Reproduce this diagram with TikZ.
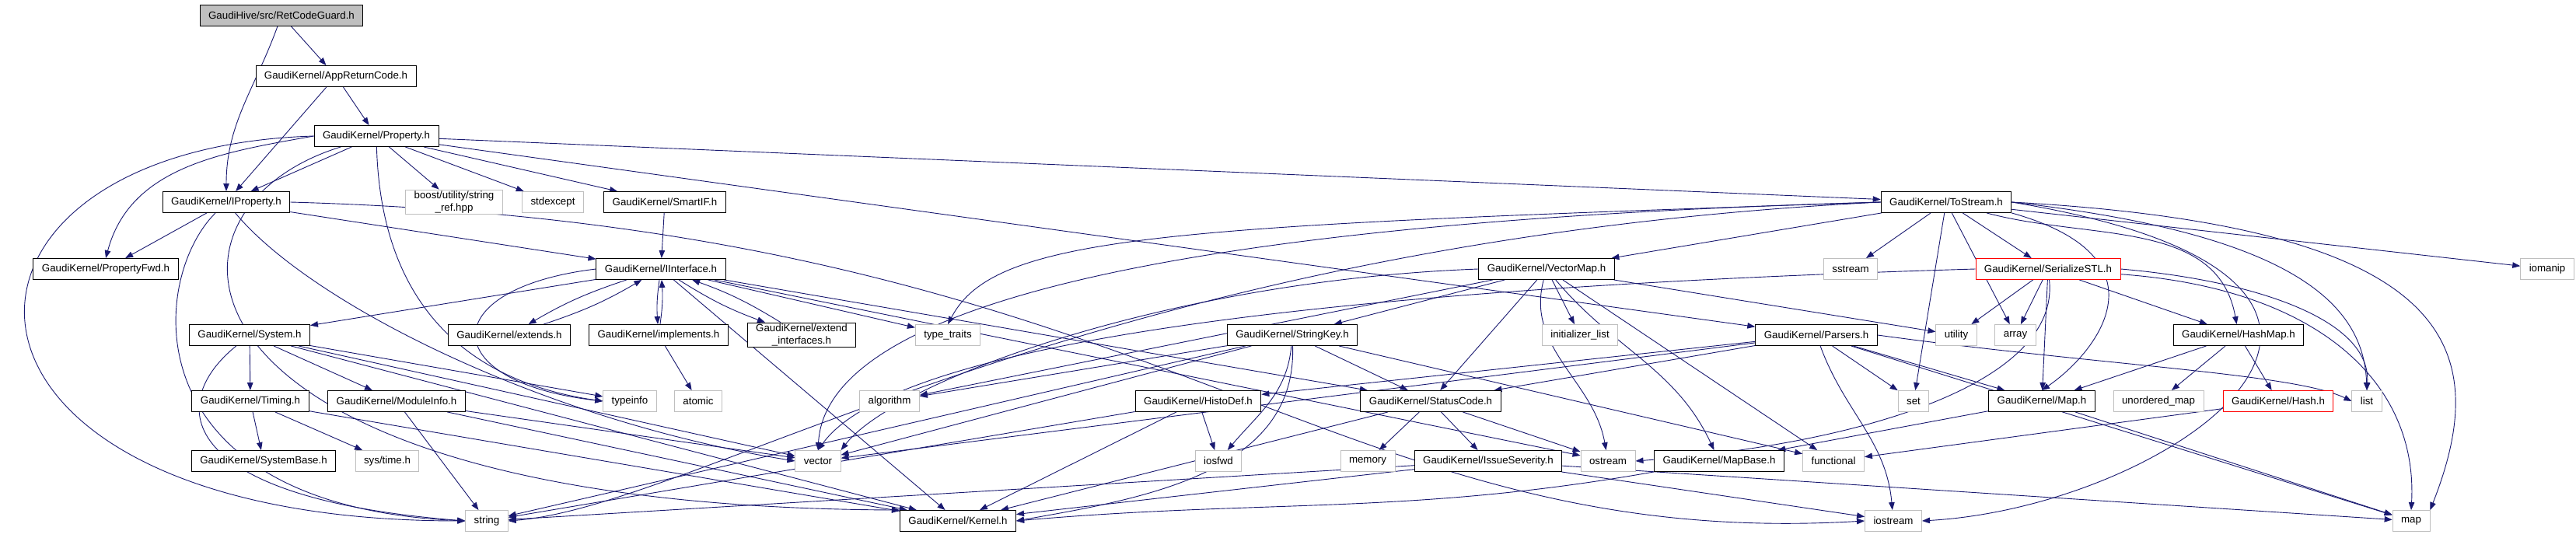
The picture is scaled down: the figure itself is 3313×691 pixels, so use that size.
\documentclass[tikz,border=0pt]{standalone}
\usepackage{fontspec}
\setmainfont{Liberation Sans}
\usetikzlibrary{arrows.meta,backgrounds}
\definecolor{edgeblue}{RGB}{25,25,112}
\definecolor{extgray}{RGB}{191,191,191}

\begin{document}
\begin{tikzpicture}[x=1pt,y=1pt]
		\tikzstyle{hdr}=[draw=black,fill=white,line width=0.9pt,inner xsep=11pt,inner ysep=2pt,minimum height=27pt,align=center,font=\fontsize{13.3}{15.5}\selectfont]
		\tikzstyle{ext}=[hdr,draw=extgray]
		\tikzstyle{bad}=[hdr,draw=red]
		\tikzstyle{root}=[hdr,fill=extgray]
		\tikzstyle{inc}=[draw=edgeblue,line width=0.9pt,-{Triangle[length=10pt,width=7.5pt]}]
		\useasboundingbox (0,0) rectangle (3313,691);
		\node[root] (rcg) at (362,671) {GaudiHive/src/RetCodeGuard.h};
		\node[hdr] (arc) at (432,593) {GaudiKernel/AppReturnCode.h};
		\node[hdr] (prop) at (484,516) {GaudiKernel/Property.h};
		\node[hdr] (iprop) at (291,431) {GaudiKernel/IProperty.h};
		\node[ext] (boost) at (584,431) {boost/utility/string\\\_ref.hpp};
		\node[ext] (stdexc) at (711,431) {stdexcept};
		\node[hdr] (smartif) at (855,431) {GaudiKernel/SmartIF.h};
		\node[hdr] (tostream) at (2503,431) {GaudiKernel/ToStream.h};
		\node[hdr] (pfwd) at (136,345) {GaudiKernel/PropertyFwd.h};
		\node[hdr] (iintf) at (850,345) {GaudiKernel/IInterface.h};
		\node[hdr] (vmap) at (1989,345) {GaudiKernel/VectorMap.h};
		\node[ext] (sstream) at (2380,345) {sstream};
		\node[bad] (sstl) at (2634,345) {GaudiKernel/SerializeSTL.h};
		\node[ext] (iomanip) at (3276,345) {iomanip};
		\node[hdr] (system) at (321,260) {GaudiKernel/System.h};
		\node[hdr] (extends) at (655,260) {GaudiKernel/extends.h};
		\node[hdr] (impl) at (847,260) {GaudiKernel/implements.h};
		\node[hdr] (extif) at (1031,260) {GaudiKernel/extend\\\_interfaces.h};
		\node[ext] (ttraits) at (1219,260) {type\_traits};
		\node[hdr] (strkey) at (1662,260) {GaudiKernel/StringKey.h};
		\node[ext] (initl) at (2032,260) {initializer\_list};
		\node[hdr] (parsers) at (2336,260) {GaudiKernel/Parsers.h};
		\node[ext] (utility) at (2516,260) {utility};
		\node[ext] (array) at (2592,260) {array};
		\node[hdr] (hashmap) at (2879,260) {GaudiKernel/HashMap.h};
		\node[hdr] (timing) at (322,175) {GaudiKernel/Timing.h};
		\node[hdr] (modinfo) at (510,175) {GaudiKernel/ModuleInfo.h};
		\node[ext] (typeinfo) at (810,175) {typeinfo};
		\node[ext] (atomic) at (898,175) {atomic};
		\node[ext] (algo) at (1144,175) {algorithm};
		\node[hdr] (histodef) at (1541,175) {GaudiKernel/HistoDef.h};
		\node[hdr] (statcode) at (1840,175) {GaudiKernel/StatusCode.h};
		\node[ext] (set) at (2461,175) {set};
		\node[hdr] (maph) at (2626,175) {GaudiKernel/Map.h};
		\node[ext] (umap) at (2776,175) {unordered\_map};
		\node[bad] (hash) at (2930,175) {GaudiKernel/Hash.h};
		\node[ext] (list) at (3044,175) {list};
		\node[hdr] (sysbase) at (339,98) {GaudiKernel/SystemBase.h};
		\node[ext] (systime) at (498,98) {sys/time.h};
		\node[ext] (vector) at (1052,98) {vector};
		\node[ext] (iosfwd) at (1567,98) {iosfwd};
		\node[ext] (memory) at (1759,98) {memory};
		\node[hdr] (issue) at (1914,98) {GaudiKernel/IssueSeverity.h};
		\node[ext] (ostream) at (2068,98) {ostream};
		\node[hdr] (mapbase) at (2211,98) {GaudiKernel/MapBase.h};
		\node[ext] (functional) at (2358,98) {functional};
		\node[ext] (string) at (626,21) {string};
		\node[hdr] (kernel) at (1232,21) {GaudiKernel/Kernel.h};
		\node[ext] (iostream) at (2435,21) {iostream};
		\node[ext] (map) at (3101,21) {map};
		\begin{scope}[on background layer]
			\foreach \s/\t in {rcg/arc, arc/iprop, arc/prop, prop/iprop, prop/boost, prop/stdexc, prop/smartif,
				prop/tostream, prop/parsers, iprop/pfwd, iprop/iintf, smartif/iintf, iintf/system, iintf/ttraits,
				iintf/kernel, iintf/statcode, iintf/ostream, impl/atomic, system/timing, system/modinfo,
				system/typeinfo, system/vector, system/kernel, timing/sysbase, timing/systime, timing/kernel,
				modinfo/kernel, modinfo/string, modinfo/vector, tostream/vmap, tostream/sstream, tostream/sstl,
				tostream/set, tostream/array, tostream/iomanip, sstl/utility, sstl/array, sstl/maph, sstl/hashmap,
				vmap/strkey, vmap/initl, vmap/statcode, vmap/algo, vmap/utility, vmap/functional,
				strkey/statcode, strkey/string, strkey/functional, strkey/algo, strkey/vector,
				histodef/iosfwd, histodef/string, histodef/kernel, parsers/histodef, parsers/statcode,
				parsers/set, parsers/maph, parsers/map, parsers/vector, statcode/memory, statcode/issue,
				statcode/ostream, statcode/kernel, issue/kernel, issue/string, issue/iostream, issue/map,
				maph/mapbase, maph/map, hashmap/maph, hashmap/umap, hashmap/hash, hash/functional}
				\draw[inc] (\s) -- (\t);
			\foreach \t in {extends, impl, extif} {
				\draw[inc] (iintf) to[bend right=6] (\t);
				\draw[inc] (\t) to[bend right=6] (iintf);
			}
			\draw[inc] (rcg) to[out=-110,in=90] (iprop);
			\draw[inc] (prop.west) to[out=190,in=75] (pfwd.north);
			\draw[inc] (prop.west) .. controls (-120,500) and (-120,21) .. (string.west);
			\draw[inc] (prop) .. controls (170,420) and (200,40) .. (kernel.north west);
			\draw[inc] (prop) .. controls (490,300) and (600,200) .. (typeinfo.west);
			\draw[inc] (iprop) .. controls (190,330) and (170,40) .. (string.west);
			\draw[inc] (iprop) .. controls (400,300) and (700,150) .. (vector.west);
			\draw[inc] (iprop.east) .. controls (1500,400) and (1700,-20) .. (iostream.west);
			\draw[inc] (iintf.west) .. controls (560,320) and (560,200) .. (typeinfo.west);
			\draw[inc] (system) .. controls (210,170) and (230,50) .. (string.west);
			\draw[inc] (tostream.west) .. controls (1500,400) and (1280,390) .. (ttraits.north);
			\draw[inc] (tostream.west) .. controls (1400,380) and (900,40) .. (string.east);
			\draw[inc] (tostream.west) .. controls (1300,400) and (1060,250) .. (vector.north);
			\draw[inc] (tostream.south east) .. controls (2790,360) and (2700,240) .. (maph.north);
			\draw[inc] (tostream) to[out=-15,in=100] (hashmap);
			\draw[inc] (tostream.east) .. controls (2950,390) and (3040,300) .. (list.north);
			\draw[inc] (tostream.east) .. controls (3150,400) and (3210,250) .. (map.north east);
			\draw[inc] (tostream.east) .. controls (3200,330) and (2800,40) .. (iostream.east);
			\draw[inc] (sstl.east) .. controls (2900,330) and (3050,280) .. (list.north);
			\draw[inc] (sstl) .. controls (2980,320) and (3110,200) .. (map.north);
			\draw[inc] (sstl.west) .. controls (1700,320) and (1150,250) .. (vector.north);
			\draw[inc] (sstl) .. controls (2650,200) and (2400,120) .. (ostream.east);
			\draw[inc] (vmap) to[out=-105,in=100] (ostream);
			\draw[inc] (vmap) to[out=-50,in=115] (mapbase);
			\draw[inc] (vmap.west) .. controls (1500,330) and (1150,200) .. (vector.north east);
			\draw[inc] (strkey) to[out=-95,in=50] (iosfwd);
			\draw[inc] (strkey) to[out=-88,in=10] (kernel.east);
			\draw[inc] (parsers.east) .. controls (2700,221) and (2950,211) .. (list.west);
			\draw[inc] (parsers) to[out=-70,in=95] (iostream);
			\draw[inc] (mapbase.south west) to[out=190,in=5] (kernel.east);
		\end{scope}
	\end{tikzpicture}
\end{document}
